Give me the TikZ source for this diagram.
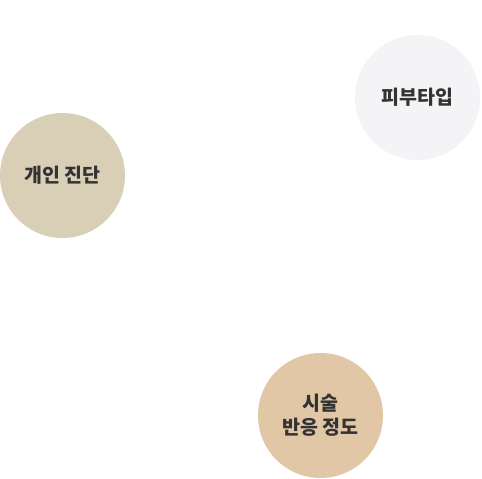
\documentclass[tikz,border=0pt]{standalone}
\usepackage{fontspec}
\newfontfamily\krfont{Noto Sans CJK KR}
\usepackage{tikz}
\definecolor{mytext}{RGB}{51,51,51}
\definecolor{mygray}{RGB}{244,244,246}
\definecolor{mybeige}{RGB}{217,207,183}
\definecolor{mytan}{RGB}{226,199,166}
\tikzset{
  bubble/.style={circle, minimum size=125pt, inner sep=0pt,
    align=center, text=mytext, font=\krfont\bfseries\fontsize{19.5}{24}\selectfont}
}

\begin{document}
\begin{tikzpicture}[x=1pt, y=1pt]
  \useasboundingbox (0,0) rectangle (482,479);

  % Three bubbles
  \node[bubble, fill=mygray] (skin) at (417.5,381.5) {피부타입};
  \node[bubble, fill=mybeige] (diag) at (62.5,303.5) {개인 진단};
  \node[bubble, fill=mytan] (react) at (320.5,63.5) {시술\\반응 정도};
\end{tikzpicture}
\end{document}
